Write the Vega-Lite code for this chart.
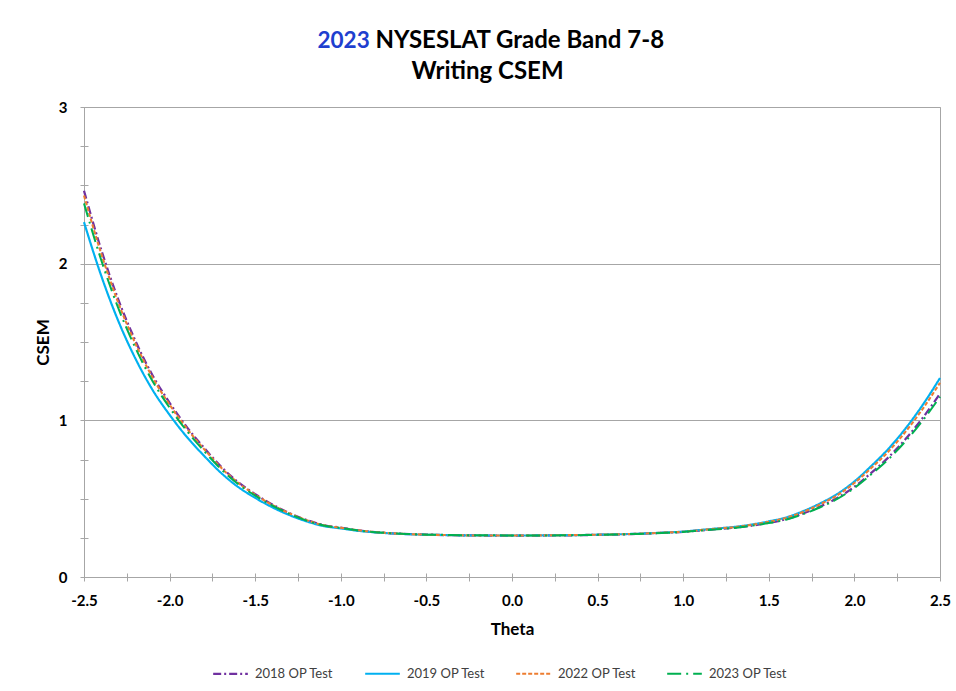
{
  "$schema": "https://vega.github.io/schema/vega-lite/v6.json",
  "width": 856,
  "height": 470,
  "autosize": "none",
  "padding": {"left": 84, "top": 107, "right": 16, "bottom": 114},
  "background": "white",
  "config": {"font": "Lato", "view": {"stroke": "#a6a6a6", "strokeWidth": 1}},
  "data": {"values": [
    {"theta": -2.5, "2018 OP Test": 2.465, "2019 OP Test": 2.265, "2022 OP Test": 2.435, "2023 OP Test": 2.385},
    {"theta": -2.4, "2018 OP Test": 2.091, "2019 OP Test": 1.925, "2022 OP Test": 2.066, "2023 OP Test": 2.025},
    {"theta": -2.3, "2018 OP Test": 1.772, "2019 OP Test": 1.635, "2022 OP Test": 1.751, "2023 OP Test": 1.717},
    {"theta": -2.2, "2018 OP Test": 1.508, "2019 OP Test": 1.395, "2022 OP Test": 1.491, "2023 OP Test": 1.463},
    {"theta": -2.1, "2018 OP Test": 1.288, "2019 OP Test": 1.195, "2022 OP Test": 1.274, "2023 OP Test": 1.251},
    {"theta": -2.0, "2018 OP Test": 1.112, "2019 OP Test": 1.035, "2022 OP Test": 1.100, "2023 OP Test": 1.081},
    {"theta": -1.9, "2018 OP Test": 0.958, "2019 OP Test": 0.895, "2022 OP Test": 0.949, "2023 OP Test": 0.933},
    {"theta": -1.8, "2018 OP Test": 0.826, "2019 OP Test": 0.775, "2022 OP Test": 0.818, "2023 OP Test": 0.806},
    {"theta": -1.7, "2018 OP Test": 0.705, "2019 OP Test": 0.665, "2022 OP Test": 0.699, "2023 OP Test": 0.689},
    {"theta": -1.6, "2018 OP Test": 0.606, "2019 OP Test": 0.575, "2022 OP Test": 0.601, "2023 OP Test": 0.594},
    {"theta": -1.5, "2018 OP Test": 0.529, "2019 OP Test": 0.505, "2022 OP Test": 0.525, "2023 OP Test": 0.519},
    {"theta": -1.4, "2018 OP Test": 0.463, "2019 OP Test": 0.445, "2022 OP Test": 0.460, "2023 OP Test": 0.456},
    {"theta": -1.3, "2018 OP Test": 0.408, "2019 OP Test": 0.395, "2022 OP Test": 0.406, "2023 OP Test": 0.403},
    {"theta": -1.2, "2018 OP Test": 0.364, "2019 OP Test": 0.355, "2022 OP Test": 0.363, "2023 OP Test": 0.360},
    {"theta": -1.1, "2018 OP Test": 0.331, "2019 OP Test": 0.325, "2022 OP Test": 0.330, "2023 OP Test": 0.329},
    {"theta": -1.0, "2018 OP Test": 0.315, "2019 OP Test": 0.310, "2022 OP Test": 0.314, "2023 OP Test": 0.313},
    {"theta": -0.9, "2018 OP Test": 0.298, "2019 OP Test": 0.295, "2022 OP Test": 0.298, "2023 OP Test": 0.297},
    {"theta": -0.8, "2018 OP Test": 0.287, "2019 OP Test": 0.285, "2022 OP Test": 0.287, "2023 OP Test": 0.286},
    {"theta": -0.7, "2018 OP Test": 0.279, "2019 OP Test": 0.278, "2022 OP Test": 0.279, "2023 OP Test": 0.279},
    {"theta": -0.6, "2018 OP Test": 0.274, "2019 OP Test": 0.273, "2022 OP Test": 0.274, "2023 OP Test": 0.274},
    {"theta": -0.5, "2018 OP Test": 0.271, "2019 OP Test": 0.270, "2022 OP Test": 0.270, "2023 OP Test": 0.270},
    {"theta": -0.4, "2018 OP Test": 0.268, "2019 OP Test": 0.268, "2022 OP Test": 0.268, "2023 OP Test": 0.269},
    {"theta": -0.3, "2018 OP Test": 0.266, "2019 OP Test": 0.266, "2022 OP Test": 0.266, "2023 OP Test": 0.267},
    {"theta": -0.2, "2018 OP Test": 0.265, "2019 OP Test": 0.265, "2022 OP Test": 0.265, "2023 OP Test": 0.266},
    {"theta": -0.1, "2018 OP Test": 0.264, "2019 OP Test": 0.265, "2022 OP Test": 0.265, "2023 OP Test": 0.266},
    {"theta": 0.0, "2018 OP Test": 0.264, "2019 OP Test": 0.265, "2022 OP Test": 0.265, "2023 OP Test": 0.265},
    {"theta": 0.1, "2018 OP Test": 0.264, "2019 OP Test": 0.265, "2022 OP Test": 0.265, "2023 OP Test": 0.265},
    {"theta": 0.2, "2018 OP Test": 0.265, "2019 OP Test": 0.266, "2022 OP Test": 0.266, "2023 OP Test": 0.265},
    {"theta": 0.3, "2018 OP Test": 0.266, "2019 OP Test": 0.267, "2022 OP Test": 0.267, "2023 OP Test": 0.266},
    {"theta": 0.4, "2018 OP Test": 0.267, "2019 OP Test": 0.268, "2022 OP Test": 0.268, "2023 OP Test": 0.267},
    {"theta": 0.5, "2018 OP Test": 0.269, "2019 OP Test": 0.270, "2022 OP Test": 0.270, "2023 OP Test": 0.269},
    {"theta": 0.6, "2018 OP Test": 0.271, "2019 OP Test": 0.272, "2022 OP Test": 0.272, "2023 OP Test": 0.271},
    {"theta": 0.7, "2018 OP Test": 0.274, "2019 OP Test": 0.275, "2022 OP Test": 0.275, "2023 OP Test": 0.274},
    {"theta": 0.8, "2018 OP Test": 0.278, "2019 OP Test": 0.279, "2022 OP Test": 0.279, "2023 OP Test": 0.277},
    {"theta": 0.9, "2018 OP Test": 0.283, "2019 OP Test": 0.284, "2022 OP Test": 0.284, "2023 OP Test": 0.282},
    {"theta": 1.0, "2018 OP Test": 0.288, "2019 OP Test": 0.290, "2022 OP Test": 0.289, "2023 OP Test": 0.287},
    {"theta": 1.1, "2018 OP Test": 0.297, "2019 OP Test": 0.300, "2022 OP Test": 0.299, "2023 OP Test": 0.296},
    {"theta": 1.2, "2018 OP Test": 0.306, "2019 OP Test": 0.310, "2022 OP Test": 0.309, "2023 OP Test": 0.305},
    {"theta": 1.3, "2018 OP Test": 0.315, "2019 OP Test": 0.320, "2022 OP Test": 0.318, "2023 OP Test": 0.313},
    {"theta": 1.4, "2018 OP Test": 0.328, "2019 OP Test": 0.335, "2022 OP Test": 0.333, "2023 OP Test": 0.327},
    {"theta": 1.5, "2018 OP Test": 0.346, "2019 OP Test": 0.355, "2022 OP Test": 0.352, "2023 OP Test": 0.344},
    {"theta": 1.6, "2018 OP Test": 0.369, "2019 OP Test": 0.380, "2022 OP Test": 0.377, "2023 OP Test": 0.366},
    {"theta": 1.7, "2018 OP Test": 0.405, "2019 OP Test": 0.420, "2022 OP Test": 0.415, "2023 OP Test": 0.401},
    {"theta": 1.8, "2018 OP Test": 0.450, "2019 OP Test": 0.470, "2022 OP Test": 0.464, "2023 OP Test": 0.445},
    {"theta": 1.9, "2018 OP Test": 0.504, "2019 OP Test": 0.530, "2022 OP Test": 0.522, "2023 OP Test": 0.498},
    {"theta": 2.0, "2018 OP Test": 0.576, "2019 OP Test": 0.610, "2022 OP Test": 0.600, "2023 OP Test": 0.569},
    {"theta": 2.1, "2018 OP Test": 0.666, "2019 OP Test": 0.710, "2022 OP Test": 0.697, "2023 OP Test": 0.657},
    {"theta": 2.2, "2018 OP Test": 0.765, "2019 OP Test": 0.820, "2022 OP Test": 0.803, "2023 OP Test": 0.753},
    {"theta": 2.3, "2018 OP Test": 0.882, "2019 OP Test": 0.950, "2022 OP Test": 0.929, "2023 OP Test": 0.868},
    {"theta": 2.4, "2018 OP Test": 1.017, "2019 OP Test": 1.100, "2022 OP Test": 1.075, "2023 OP Test": 1.000},
    {"theta": 2.5, "2018 OP Test": 1.170, "2019 OP Test": 1.270, "2022 OP Test": 1.240, "2023 OP Test": 1.150}
  ]},
  "transform": [
    {"fold": ["2018 OP Test", "2019 OP Test", "2022 OP Test", "2023 OP Test"], "as": ["Series", "CSEM"]}
  ],
  "resolve": {"axis": {"x": "independent", "y": "independent"}},
  "layer": [
    {
      "mark": {"type": "line", "interpolate": "monotone", "clip": false},
      "encoding": {
        "x": {"field": "theta", "type": "quantitative",
          "scale": {"domain": [-2.5, 2.5], "nice": false, "zero": false},
          "axis": {"orient": "bottom", "values": [-2.5,-2.25,-2,-1.75,-1.5,-1.25,-1,-0.75,-0.5,-0.25,0,0.25,0.5,0.75,1,1.25,1.5,1.75,2,2.25,2.5],
            "labelExpr": "abs(datum.value*2 - round(datum.value*2)) < 0.000001 ? replace(format(datum.value, '.1f'), '\u2212', '-') : ''",
            "grid": false, "domainColor": "#a6a6a6", "tickColor": "#a6a6a6", "tickSize": 4,
            "labelFont": "Lato", "labelFontSize": 15, "labelFontWeight": "bold", "labelColor": "#000000", "labelPadding": 12, "labelFlush": false, "labelOverlap": false,
            "title": "Theta", "titleFont": "Lato", "titleFontSize": 17, "titleFontWeight": "bold", "titleColor": "#000000",
            "titleBaseline": "alphabetic", "titleY": 57}},
        "y": {"field": "CSEM", "type": "quantitative",
          "scale": {"domain": [0, 3], "nice": false},
          "axis": {"orient": "left", "values": [0,0.25,0.5,0.75,1,1.25,1.5,1.75,2,2.25,2.5,2.75,3],
            "labelExpr": "datum.value % 1 === 0 ? format(datum.value, 'd') : ''",
            "grid": true, "gridColor": "#a6a6a6", "gridOpacity": {"condition": {"test": "datum.value % 1 === 0", "value": 1}, "value": 0},
            "domainColor": "#a6a6a6", "tickColor": "#a6a6a6", "tickSize": 4,
            "labelFont": "Lato", "labelFontSize": 15, "labelFontWeight": "bold", "labelColor": "#000000", "labelPadding": 13, "labelOverlap": false,
            "title": "CSEM", "titleFont": "Lato", "titleFontSize": 17, "titleFontWeight": "bold", "titleColor": "#000000",
            "titleAngle": -90, "titleBaseline": "alphabetic", "titleAlign": "center", "titleX": -36, "titleY": 235}},
        "color": {"field": "Series", "type": "nominal",
          "scale": {"domain": ["2018 OP Test", "2019 OP Test", "2022 OP Test", "2023 OP Test"], "range": ["#7030a0", "#00b0f0", "#ed7d31", "#00b050"]},
          "legend": {"orient": "none", "direction": "horizontal", "legendX": 128, "legendY": 548, "title": null,
            "symbolType": "stroke", "symbolSize": 1200, "labelFont": "Lato", "labelFontSize": 13, "labelColor": "#404040",
            "labelOffset": 6, "columnPadding": 26}},
        "strokeDash": {"field": "Series", "type": "nominal",
          "scale": {"domain": ["2018 OP Test", "2019 OP Test", "2022 OP Test", "2023 OP Test"], "range": [[8, 3, 2, 3], [1, 0], [4, 2], [14, 5, 2, 5]]}},
        "strokeWidth": {"field": "Series", "type": "nominal",
          "scale": {"domain": ["2018 OP Test", "2019 OP Test", "2022 OP Test", "2023 OP Test"], "range": [2.25, 2, 2, 3.5]}}
      }
    },
    {
      "mark": {"type": "line", "opacity": 0},
      "encoding": {
        "x": {"field": "theta", "type": "quantitative",
          "axis": {"orient": "bottom", "values": [-2.5,-2.25,-2,-1.75,-1.5,-1.25,-1,-0.75,-0.5,-0.25,0,0.25,0.5,0.75,1,1.25,1.5,1.75,2,2.25,2.5],
            "labels": false, "domain": false, "grid": false, "tickColor": "#a6a6a6", "tickSize": -4,
            "title": "2023", "titleFont": "Lato", "titleFontSize": 22.5, "titleFontWeight": "bold", "titleColor": "#1f3fcf",
            "titleAlign": "left", "titleBaseline": "alphabetic", "titleX": 233, "titleY": -530}},
        "y": {"field": "CSEM", "type": "quantitative",
          "axis": {"orient": "left", "values": [0,0.25,0.5,0.75,1,1.25,1.5,1.75,2,2.25,2.5,2.75,3],
            "labels": false, "domain": false, "grid": false, "tickColor": "#a6a6a6", "tickSize": -4,
            "title": "NYSESLAT Grade Band 7-8", "titleFont": "Lato", "titleFontSize": 24, "titleFontWeight": "bold", "titleColor": "#000000",
            "titleAngle": 0, "titleAlign": "left", "titleBaseline": "alphabetic", "titleX": 291, "titleY": -60}},
        "detail": {"field": "Series", "type": "nominal"}
      }
    },
    {
      "mark": {"type": "line", "opacity": 0},
      "encoding": {
        "x": {"field": "theta", "type": "quantitative",
          "axis": {"orient": "top", "labels": false, "domain": false, "grid": false, "ticks": false,
            "title": "Writing CSEM", "titleFont": "Lato", "titleFontSize": 24, "titleFontWeight": "bold", "titleColor": "#000000",
            "titleAlign": "center", "titleBaseline": "alphabetic", "titleX": 403, "titleY": -29}},
        "y": {"field": "CSEM", "type": "quantitative", "axis": null},
        "detail": {"field": "Series", "type": "nominal"}
      }
    }
  ]
}
